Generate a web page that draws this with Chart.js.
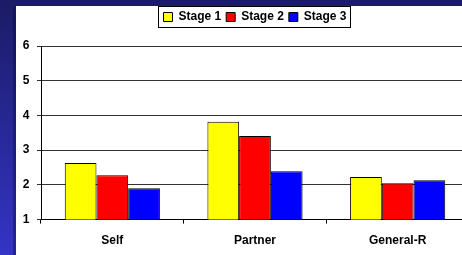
<!DOCTYPE html>
<html>
<head>
<meta charset="utf-8">
<script src="https://cdn.jsdelivr.net/npm/chart.js@4"></script>
<style>
  html, body {
    margin: 0;
    padding: 0;
    width: 462px;
    height: 255px;
    overflow: hidden;
    background: linear-gradient(to bottom, #1b1b66, #3434c6);
  }
  #panel {
    position: absolute;
    left: 16px;
    top: 6px;
    width: 446px;
    height: 249px;
    background: #ffffff;
    overflow: hidden;
    box-shadow: -3px 0 0 rgba(10, 10, 60, 0.35);
  }
  #myChart {
    position: absolute;
    left: 0;
    top: 0;
  }
</style>
</head>
<body>
<div id="panel">
  <canvas id="myChart" width="460" height="260"></canvas>
</div>
<script>
// Chart data
let categories = ['Self', 'Partner', 'General-R'];
let stageNames = ['Stage 1', 'Stage 2', 'Stage 3'];
let stage1 = [2.63, 3.82, 2.23];
let stage2 = [2.28, 3.41, 2.05];
let stage3 = [1.90, 2.39, 2.13];
let yMin = 1;
let yMax = 6;
let yStep = 1;

Chart.defaults.font.family = '"Liberation Sans", Arial, sans-serif';
Chart.defaults.font.size = 12;
Chart.defaults.font.weight = 'bold';
Chart.defaults.color = '#000000';

// Make room under the legend and draw a frame round it
let legendBox = {
    id: 'legendBox',
    beforeInit(chart) {
        let fit = chart.legend.fit;
        chart.legend.fit = function() {
            fit.bind(chart.legend)();
            this.height += 13;
        };
    },
    afterDraw(chart) {
        let boxes = chart.legend.legendHitBoxes;
        if (!boxes || !boxes.length) return;
        let first = boxes[0];
        let last = boxes[boxes.length - 1];
        let ctx = chart.ctx;
        ctx.save();
        ctx.strokeStyle = '#000000';
        ctx.lineWidth = 1;
        let x0 = Math.round(first.left - 5) + 0.5;
        let x1 = Math.round(last.left + last.width + 3) + 0.5;
        let y0 = Math.round(first.top - 5) + 0.5;
        let y1 = Math.round(first.top + first.height + 4) + 0.5;
        ctx.strokeRect(x0, y0, x1 - x0, y1 - y0);
        ctx.restore();
    }
};

let ctx = document.getElementById('myChart').getContext('2d');

let chart = new Chart(ctx, {
    type: 'bar',
    data: {
        labels: categories,
        datasets: [
            {
                label: stageNames[0],
                data: stage1,
                backgroundColor: '#ffff00',
                borderColor: '#000000',
                borderWidth: 1,
                borderSkipped: false
            },
            {
                label: stageNames[1],
                data: stage2,
                backgroundColor: '#ff0000',
                borderColor: '#000000',
                borderWidth: 1,
                borderSkipped: false
            },
            {
                label: stageNames[2],
                data: stage3,
                backgroundColor: '#0000ff',
                borderColor: '#000000',
                borderWidth: 1,
                borderSkipped: false
            }
        ]
    },
    options: {
        responsive: false,
        animation: false,
        layout: {
            padding: { left: 0, right: 7, top: 0, bottom: 8 }
        },
        datasets: {
            bar: {
                categoryPercentage: 0.667,
                barPercentage: 1.0
            }
        },
        plugins: {
            legend: {
                position: 'top',
                fullSize: false,
                labels: {
                    boxWidth: 9,
                    boxHeight: 9,
                    padding: 5,
                    font: { size: 12, weight: 'bold' }
                }
            },
            tooltip: { enabled: false }
        },
        scales: {
            x: {
                offset: true,
                grid: {
                    offset: true,
                    drawOnChartArea: false,
                    drawTicks: true,
                    tickLength: 4,
                    color: '#000000'
                },
                border: { color: '#000000', width: 1 },
                ticks: {
                    padding: 10,
                    font: { size: 12, weight: 'bold' }
                }
            },
            y: {
                min: yMin,
                max: yMax,
                afterFit: function(scale) {
                    scale.width = 25;
                },
                grid: {
                    color: '#333333',
                    drawTicks: true,
                    tickLength: 4
                },
                border: { color: '#000000', width: 1 },
                ticks: {
                    stepSize: yStep,
                    padding: 7.5,
                    font: { size: 12, weight: 'bold' }
                }
            }
        }
    },
    plugins: [legendBox]
});
</script>
</body>
</html>
